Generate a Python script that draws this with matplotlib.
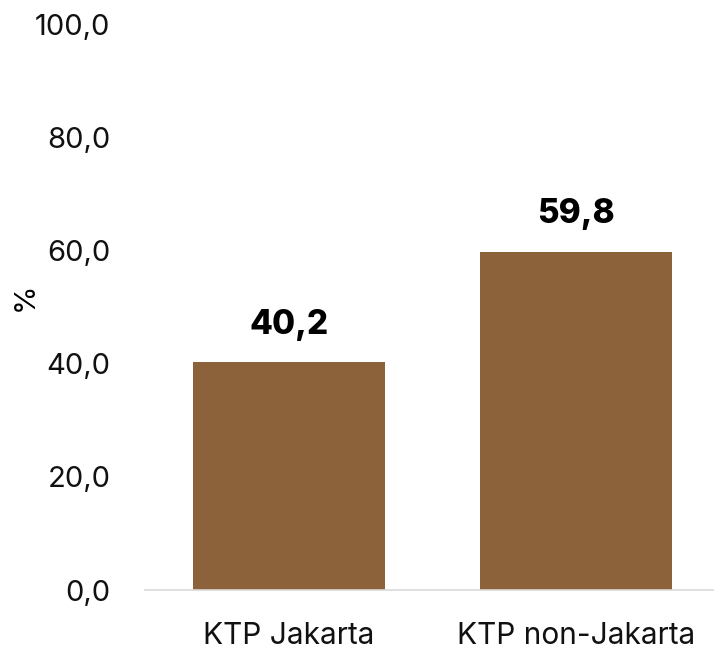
import matplotlib.pyplot as plt

categories = ["KTP Jakarta", "KTP non-Jakarta"]
values = [40.2, 59.8]
yticks = [0, 20, 40, 60, 80, 100]

plt.rcParams["font.family"] = ["Inter", "DejaVu Sans"]

fig = plt.figure(figsize=(7.14, 6.51), dpi=100)
ax = fig.add_axes([145 / 714, 61 / 651, 575 / 714, 566 / 651])

x = list(range(len(categories)))
bars = ax.bar(x, values, width=0.668, color="#8B6239")

for b, v in zip(bars, values):
    ax.text(b.get_x() + b.get_width() / 2, v + 3.8, f"{v:.1f}".replace(".", ","),
            ha="center", va="bottom", fontsize=24, fontweight="heavy", color="black")

ax.set_xlim(-0.5, 1.5)
ax.set_ylim(0, 100)
ax.set_yticks(yticks)
ax.set_yticklabels([f"{t:.1f}".replace(".", ",") for t in yticks], fontsize=21)
ax.set_xticks(x)
ax.set_xticklabels(categories, fontsize=21.5)
ax.tick_params(axis="both", length=0, colors="#111111")
ax.tick_params(axis="x", pad=23)
ax.tick_params(axis="y", pad=25)

for s in ["top", "right", "left"]:
    ax.spines[s].set_visible(False)
ax.spines["bottom"].set_color("#D9D9D9")
ax.spines["bottom"].set_linewidth(1.2)

fig.text(25 / 714, 1 - 297 / 651, "%", rotation=90, ha="center", va="center", fontsize=21)

fig.savefig("out.png", dpi=100)
